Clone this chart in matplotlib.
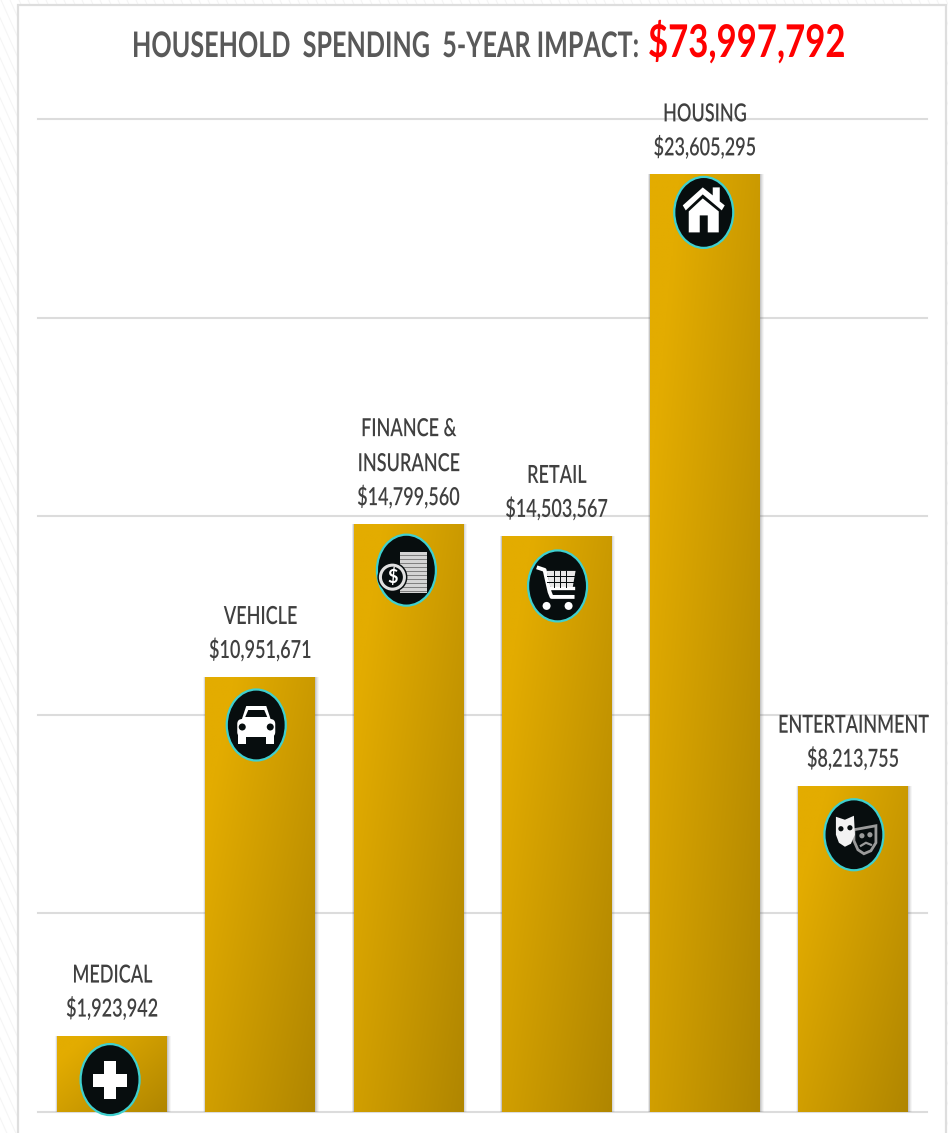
import numpy as np
import matplotlib
matplotlib.use('Agg')
import matplotlib.pyplot as plt
import matplotlib.patheffects as pe
from matplotlib.patches import Ellipse, Polygon, Rectangle, Circle, FancyBboxPatch
from matplotlib.transforms import Affine2D

plt.rcParams['font.family'] = ['Lato', 'DejaVu Sans']

categories = ['MEDICAL', 'VEHICLE', 'FINANCE &\nINSURANCE', 'RETAIL', 'HOUSING', 'ENTERTAINMENT']
values = [1923942, 10951671, 14799560, 14503567, 23605295, 8213755]
value_labels = ['$1,923,942', '$10,951,671', '$14,799,560', '$14,503,567', '$23,605,295', '$8,213,755']
y_ticks = [0, 5000000, 10000000, 15000000, 20000000, 25000000]
title_left = 'HOUSEHOLD  SPENDING  5-YEAR IMPACT:'
title_total = '$73,997,792'
icon_names = ['plus', 'car', 'coins', 'cart', 'house', 'masks']
icon_drop = [44, 48, 46, 50, 38, 49]  # px below bar top
icon_shift = [-2, -4, -2, 1, -1, 1]  # px off bar centre

W, H = 948, 1133
INK = '#070d0e'


class TallText(pe.AbstractPathEffect):
    # stretches glyphs vertically about the baseline
    def __init__(self, k):
        super().__init__()
        self.k = k

    def draw_path(self, renderer, gc, tpath, affine, rgbFace=None):
        renderer.draw_path(gc, tpath, Affine2D().scale(1, self.k) + affine, rgbFace)


fig = plt.figure(figsize=(W/100, H/100), dpi=100, facecolor='white')

# page backdrop with faint diagonal stripes, white panel on top
bg = fig.add_axes([0, 0, 1, 1], zorder=0)
bg.set_xlim(0, W); bg.set_ylim(H, 0); bg.axis('off')
for s in np.arange(-H, W, 9):
    bg.plot([s, s + H*0.45], [0, H], color='#f5f5f5', lw=0.8, zorder=1)
bg.add_patch(Rectangle((18, 5), 928, 1140, fc='white', ec='#dedede', lw=1.6, zorder=2))

ax = fig.add_axes([38/W, 1 - 1112/H, (927 - 38)/W, (1112 - 119)/H], zorder=1)
ax.patch.set_alpha(0)
x = np.arange(len(values))
ax.set_yticks(y_ticks)
ax.grid(axis='y', color='#dcdcdc', lw=1.5, clip_on=False)
ax.set_axisbelow(True)
ax.tick_params(left=False, bottom=False, labelleft=False, labelbottom=False)
for sp in ax.spines.values():
    sp.set_visible(False)

bars = ax.bar(x, values, width=0.74, color='none', zorder=3)

# soft shadow behind each bar
for b in bars:
    for k, a in zip([4, 3, 2, 1], [0.05, 0.08, 0.1, 0.14]):
        dx = k / 148.2
        ax.add_patch(Rectangle((b.get_x() - dx*0.5, 0), b.get_width() + dx*1.5, b.get_height(),
                               fc='#555555', ec='none', alpha=a, zorder=2))

# diagonal gold gradient, clipped to the bar
c0 = np.array([0xE3, 0xAC, 0x00]) / 255
c1 = np.array([0xB0, 0x86, 0x00]) / 255
for b in bars:
    u, v = np.meshgrid(np.linspace(0, 1, 100), np.linspace(0, 1, 200))
    t = np.clip((0.55*u + 0.45*v - 0.15) / 0.85, 0, 1)
    img = c0 + (c1 - c0) * t[..., None]
    im = ax.imshow(img, extent=[b.get_x(), b.get_x() + b.get_width(), 0, b.get_height()],
                   aspect='auto', zorder=3, interpolation='bilinear', origin='upper')
    im.set_clip_path(b)
ax.set_xlim(-0.5, 5.5)
ax.set_ylim(0, 25000000)


def draw_icon(name, cx, cy):
    # icon shapes are laid out in px around the badge centre, y pointing down
    tr = Affine2D().scale(1, -1).translate(cx, cy)
    def add(p, z=6):
        p.set_transform(tr)
        p.set_zorder(z)
        p.set_clip_on(False)
        ax.add_artist(p)
    add(Ellipse((0, 0), 59, 71, fc=INK, ec='#3fd0cf', lw=1.6), 5)
    w = 'white'
    if name == 'plus':
        add(Polygon([(-6, -19), (6, -19), (6, -6), (17, -6), (17, 7), (6, 7), (6, 19), (-6, 19), (-6, 7), (-17, 7), (-17, -6), (-6, -6)], fc=w, ec='none'))
    elif name == 'house':
        add(Polygon([(-21, -7), (-1, -25), (9, -17), (9, -25), (16, -25), (16, -11), (21, -7), (18, -2), (-1, -18), (-18, -2)], fc=w, ec='none'))
        add(Polygon([(-15, -1), (-1, -14), (15, -1), (15, 20), (4, 20), (4, 3), (-4, 3), (-4, 20), (-15, 20)], fc=w, ec='none'))
    elif name == 'car':
        add(FancyBboxPatch((-19, -6), 38, 18, boxstyle='round,pad=0,rounding_size=5', fc=w, ec='none'))
        add(Polygon([(-15, -4), (-10, -19), (10, -19), (15, -4)], fc=w, ec='none'))
        add(Polygon([(-11, -8), (-8, -15), (8, -15), (11, -8)], fc=INK, ec='none'))
        add(Circle((-14, 2), 3.5, fc=INK, ec='none'), 7)
        add(Circle((14, 2), 3.5, fc=INK, ec='none'), 7)
        add(Rectangle((-18, 10), 8, 9, fc=w, ec='none'))
        add(Rectangle((10, 10), 8, 9, fc=w, ec='none'))
    elif name == 'coins':
        add(Rectangle((-6, -18), 27, 41, fc='#d4d4d4', ec='none'))
        for yy in np.arange(-15, 23, 4):
            add(Rectangle((-6, yy), 27, 1.0, fc='#808080', ec='none'), 7)
        add(Circle((-14, 7), 15, fc=INK, ec='none'), 7)
        add(Circle((-14, 7), 12, fc='none', ec='#e0e0e0', lw=2.2), 8)
        add(plt.Text(-14, 7, '$', color=w, fontsize=13, fontweight='bold', ha='center', va='center'), 8)
    elif name == 'cart':
        add(Polygon([(-11, -15), (18, -15), (15, 2), (-7, 2)], fc='#e8e8e8', ec='none'))
        for xx in [-4, 2, 8]:
            add(Rectangle((xx, -15), 1.5, 17, fc=INK, ec='none'), 7)
        for yy in [-10, -4]:
            add(Rectangle((-11, yy), 30, 1.5, fc=INK, ec='none'), 7)
        add(plt.Line2D([-19, -13, -8, -6, 15], [-18, -16, 6, 11, 11], color=w, lw=2.8))
        add(plt.Line2D([-8, 15], [2, 2], color=w, lw=2.4))
        add(Circle((-11, 20), 4, fc=w, ec='none'))
        add(Circle((11, 20), 4, fc=w, ec='none'))
    elif name == 'masks':
        add(Polygon([(0, -5), (22, -9), (22, 8), (17, 16), (10, 19), (4, 15), (0, 6)], fc=INK, ec='#9a9a9a', lw=2))
        add(Circle((8, 1), 2.6, fc='#9a9a9a', ec='none'), 7)
        add(Circle((16, 0), 2.6, fc='#9a9a9a', ec='none'), 7)
        add(plt.Line2D([7, 12, 17], [11, 8, 10], color='#9a9a9a', lw=1.6))
        add(Polygon([(-18, -18), (-9, -15), (0, -19), (1, 0), (-3, 9), (-9, 12), (-15, 8), (-18, 0)], fc='#f2f2f2', ec='none'), 8)
        add(Circle((-13, -6), 2.6, fc=INK, ec='none'), 9)
        add(Circle((-4, -7), 2.6, fc=INK, ec='none'), 9)
        add(plt.Line2D([-13, -8, -3], [2, 6, 1], color=INK, lw=1.6, zorder=9))


fig.canvas.draw()
for i, name in enumerate(icon_names):
    px, py = ax.transData.transform((x[i], values[i]))
    draw_icon(name, px + icon_shift[i], py - icon_drop[i])

# category and value labels above the bars
label_fx = [TallText(1.38)]
for i, (c, v) in enumerate(zip(categories, value_labels)):
    ax.annotate(v, (x[i], values[i]), xytext=(0, 19), textcoords='offset pixels', ha='center', va='baseline',
                fontsize=13, fontweight='semibold', color='#404040', zorder=8, annotation_clip=False, path_effects=label_fx)
    for j, line in enumerate(reversed(c.split('\n'))):
        ax.annotate(line, (x[i], values[i]), xytext=(0, 53 + 35*j), textcoords='offset pixels', ha='center', va='baseline',
                    fontsize=13, fontweight='semibold', color='#404040', zorder=8, annotation_clip=False, path_effects=label_fx)

fig.text(132/W, 1 - 57/H, title_left, ha='left', va='baseline', fontsize=18.1, fontweight='bold', color='#595959',
         zorder=5, path_effects=[TallText(1.4)])
fig.text(648/W, 1 - 57/H, title_total, ha='left', va='baseline', fontsize=25, fontweight='bold', color='#ff0000',
         zorder=5, path_effects=[TallText(1.3)])

fig.savefig('out.png', dpi=100)
